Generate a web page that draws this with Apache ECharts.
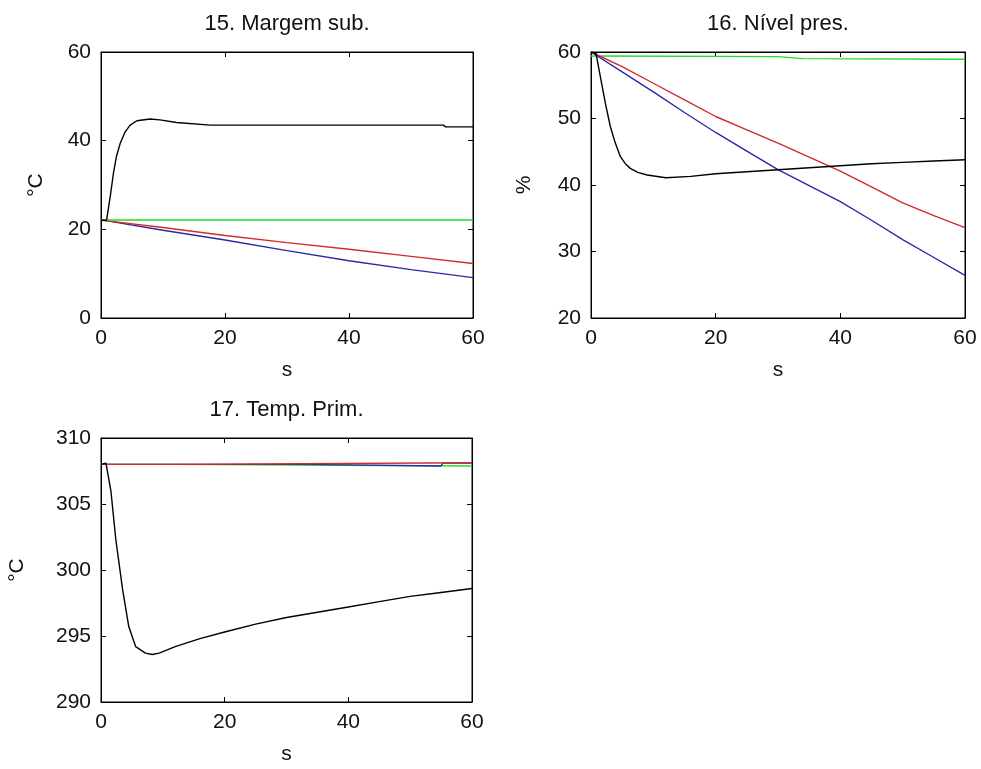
<!DOCTYPE html>
<html>
<head>
<meta charset="utf-8">
<script src="https://cdn.jsdelivr.net/npm/echarts@6/dist/echarts.min.js"></script>
<style>html,body{margin:0;padding:0;background:#fff}#c{width:981px;height:769px}</style>
</head>
<body>
<div id="c"></div>
<script>
// ---------- data ----------
var titles = ['15. Margem sub.', '16. Nível pres.', '17. Temp. Prim.'];
var yNames = ['°C', '%', '°C'];
var xTicks = [0, 20, 40, 60];
var yRanges = [[0, 60, 20], [20, 60, 10], [290, 310, 5]];

// Panel 15: Margem sub.
var p1BlackT = [0, 0.9, 1.5, 2, 2.5, 3.1, 3.9, 4.7, 5.8, 7.9, 9.5, 12.2, 17.6, 25, 35, 45, 55.2, 55.6, 60];
var p1BlackV = [22, 22.1, 27.5, 32.6, 36.5, 39.4, 42.0, 43.5, 44.5, 44.9, 44.7, 44.1, 43.5, 43.5, 43.5, 43.5, 43.5, 43.1, 43.1];
var p1GreenT = [0, 60];
var p1GreenV = [22.1, 22.1];
var p1RedT = [0, 1, 10, 20, 30, 40, 50, 60];
var p1RedV = [22.1, 21.9, 20.4, 18.6, 17.0, 15.5, 13.9, 12.3];
var p1BlueT = [0, 1, 10, 20, 30, 40, 50, 60];
var p1BlueV = [22.1, 21.9, 19.8, 17.6, 15.2, 12.9, 10.9, 9.1];

// Panel 16: Nível pres.
var p2GreenT = [0, 30, 34, 60];
var p2GreenV = [59.4, 59.3, 59.0, 58.9];
var p2BlackT = [0, 0.8, 1.5, 2.3, 3.1, 3.9, 4.7, 5.5, 6.3, 7.5, 9, 12, 16, 20, 25, 30, 35, 40, 45, 50, 55, 60];
var p2BlackV = [60, 59.8, 56.3, 52.3, 48.8, 46.3, 44.3, 43.2, 42.5, 41.9, 41.5, 41.1, 41.3, 41.7, 42.0, 42.3, 42.6, 42.9, 43.2, 43.4, 43.6, 43.8];
var p2RedT = [0, 5, 10, 15, 20, 25, 30, 35, 40, 45, 50, 55, 60];
var p2RedV = [60, 57.8, 55.3, 52.8, 50.3, 48.3, 46.3, 44.2, 42.1, 39.7, 37.3, 35.4, 33.6];
var p2BlueT = [0, 5, 10, 15, 20, 25, 30, 35, 40, 45, 50, 55, 60];
var p2BlueV = [60, 57.0, 54.0, 50.9, 47.9, 45.1, 42.3, 39.9, 37.5, 34.7, 31.8, 29.1, 26.4];

// Panel 17: Temp. Prim.
var p3GreenT = [0, 12, 12.3, 60];
var p3GreenV = [308.0, 308.0, 307.88, 307.88];
var p3BlueT = [0, 32, 32.3, 55, 55.3, 60];
var p3BlueV = [308.0, 308.0, 307.88, 307.88, 308.1, 308.1];
var p3RedT = [0, 12, 12.3, 60];
var p3RedV = [308.0, 308.0, 308.12, 308.12];
var p3BlackT = [0, 0.8, 1.6, 2.4, 3.5, 4.5, 5.6, 7.2, 8.3, 9.4, 12, 16, 20, 25, 30, 35, 40, 45, 50, 55, 60];
var p3BlackV = [308.0, 308.1, 306.0, 302.3, 298.5, 295.7, 294.2, 293.7, 293.6, 293.7, 294.2, 294.8, 295.3, 295.9, 296.4, 296.8, 297.2, 297.6, 298.0, 298.3, 298.6];

// ---------- chart ----------
var COL = {black: '#000000', green: '#22dd22', red: '#d42a2a', blue: '#2a2aa8'};
function pairs(t, v) { return t.map(function (x, i) { return [x, v[i]]; }); }

var grids = [
  {left: 101, top: 52, width: 372, height: 266},
  {left: 591, top: 52, width: 374, height: 266},
  {left: 101, top: 438, width: 371, height: 264}
];
var yGaps = [54, 56, 73];
var FONT = 'Liberation Sans, Arial, sans-serif';

var xAxes = [], yAxes = [];
grids.forEach(function (g, i) {
  g.show = true; g.borderColor = '#000'; g.borderWidth = 1; g.backgroundColor = '#fff';
  var xr = {min: 0, max: 60, interval: 20};
  xAxes.push({
    type: 'value', gridIndex: i, position: 'bottom', min: xr.min, max: xr.max, interval: xr.interval,
    name: 's', nameLocation: 'middle', nameGap: 42,
    nameTextStyle: {fontFamily: FONT, fontSize: 21, color: '#111'},
    axisLine: {show: true, onZero: false, lineStyle: {color: '#000', width: 1}},
    axisTick: {show: true, inside: true, length: 5, lineStyle: {color: '#000'}},
    axisLabel: {show: true, margin: 10, fontFamily: FONT, fontSize: 21, color: '#111'},
    splitLine: {show: false}
  });
  xAxes.push({
    type: 'value', gridIndex: i, position: 'top', min: xr.min, max: xr.max, interval: xr.interval,
    axisLine: {show: true, onZero: false, lineStyle: {color: '#000', width: 1}},
    axisTick: {show: true, inside: true, length: 5, lineStyle: {color: '#000'}},
    axisLabel: {show: false}, splitLine: {show: false}
  });
  var yr = yRanges[i];
  yAxes.push({
    type: 'value', gridIndex: i, position: 'left', min: yr[0], max: yr[1], interval: yr[2],
    name: yNames[i], nameLocation: 'middle', nameGap: yGaps[i], nameRotate: 90,
    nameTextStyle: {fontFamily: FONT, fontSize: 21, color: '#111'},
    axisLine: {show: true, onZero: false, lineStyle: {color: '#000', width: 1}},
    axisTick: {show: true, inside: true, length: 5, lineStyle: {color: '#000'}},
    axisLabel: {show: true, margin: 10, fontFamily: FONT, fontSize: 21, color: '#111'},
    splitLine: {show: false}
  });
  yAxes.push({
    type: 'value', gridIndex: i, position: 'right', min: yr[0], max: yr[1], interval: yr[2],
    axisLine: {show: true, onZero: false, lineStyle: {color: '#000', width: 1}},
    axisTick: {show: true, inside: true, length: 5, lineStyle: {color: '#000'}},
    axisLabel: {show: false}, splitLine: {show: false}
  });
});

function line(panel, t, v, color, z) {
  return {
    type: 'line', xAxisIndex: panel * 2, yAxisIndex: panel * 2, data: pairs(t, v),
    showSymbol: false, symbol: 'none', smooth: false, animation: false, z: z || 2,
    lineStyle: {color: color, width: 1.4}, silent: true
  };
}

var series = [
  line(0, p1BlueT, p1BlueV, COL.blue, 2),
  line(0, p1RedT, p1RedV, COL.red, 3),
  line(0, p1GreenT, p1GreenV, COL.green, 4),
  line(0, p1BlackT, p1BlackV, COL.black, 5),
  line(1, p2GreenT, p2GreenV, COL.green, 2),
  line(1, p2RedT, p2RedV, COL.red, 3),
  line(1, p2BlueT, p2BlueV, COL.blue, 4),
  line(1, p2BlackT, p2BlackV, COL.black, 5),
  line(2, p3GreenT, p3GreenV, COL.green, 2),
  line(2, p3BlueT, p3BlueV, COL.blue, 3),
  line(2, p3RedT, p3RedV, COL.red, 4),
  line(2, p3BlackT, p3BlackV, COL.black, 5)
];

var titleEls = grids.map(function (g, i) {
  return {
    type: 'text', x: g.left + g.width / 2, y: g.top - 28,
    style: {text: titles[i], x: 0, y: 0, textAlign: 'center', textVerticalAlign: 'middle',
      font: '22px ' + FONT, fill: '#111'}
  };
});

var chart = echarts.init(document.getElementById('c'), null, {renderer: 'canvas'});
chart.setOption({
  animation: false,
  backgroundColor: '#fff',
  grid: grids,
  xAxis: xAxes,
  yAxis: yAxes,
  series: series,
  graphic: titleEls
});
</script>
</body>
</html>
